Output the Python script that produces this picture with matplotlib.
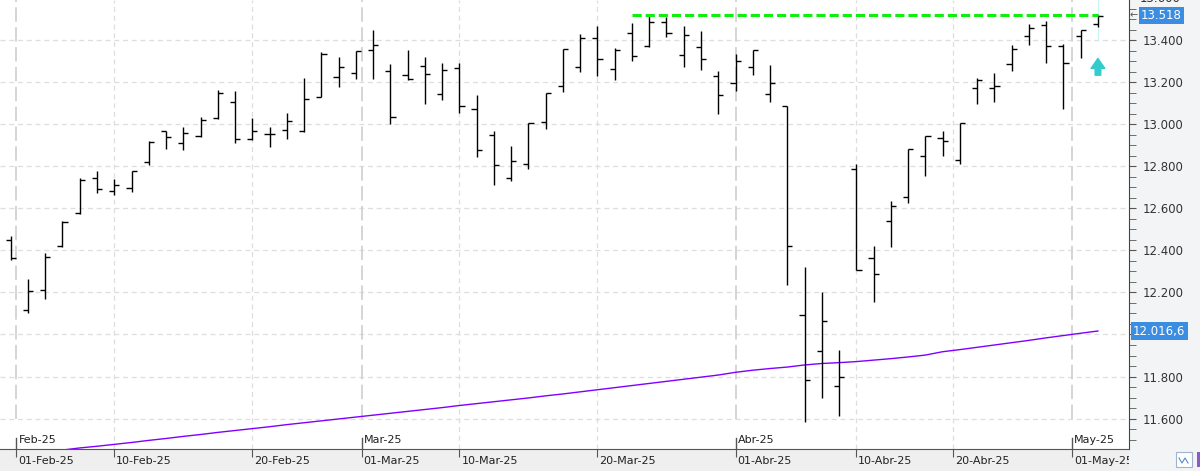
import numpy as np
import pandas as pd
import matplotlib
matplotlib.use("Agg")
import matplotlib.pyplot as plt
from matplotlib.patches import Rectangle
from matplotlib.ticker import MultipleLocator, FixedLocator, FuncFormatter
from matplotlib.transforms import (blended_transform_factory, ScaledTranslation,
                                   Bbox, TransformedBbox)

# sesiones 31-Ene-25 .. 05-May-25 (Viernes Santo, Lunes de Pascua y 1-May cerrados)
HOLIDAYS = ["2025-04-18", "2025-04-21", "2025-05-01"]
DAYS = pd.DatetimeIndex([d for d in pd.bdate_range("2025-01-31", "2025-05-05")
                         if d.strftime("%Y-%m-%d") not in HOLIDAYS])

OPEN = [12448, 12116, 12214, 12421, 12576, 12743, 12681, 12695, 12819, 12968,
        12910, 12943, 13029, 13105, 12929, 12953, 12971, 12967, 13130, 13224,
        13243, 13352, 13252, 13235, 13276, 13145, 13267, 13071, 12948, 12745,
        12810, 13011, 13181, 13271, 13410, 13262, 13433, 13371, 13486, 13329,
        13367, 13229, 13195, 13271, 13143, 13086, 12092, 11921, 11753, 12787,
        12362, 12538, 12653, 12848, 12935, 12829, 13171, 13171, 13287, 13421,
        13471, 13371, 13421, 13476]
HIGH = [12468, 12262, 12389, 12540, 12743, 12776, 12738, 12779, 12919, 12970,
        12986, 13033, 13163, 13157, 13029, 12989, 13052, 13219, 13343, 13321,
        13349, 13449, 13287, 13354, 13321, 13292, 13292, 13140, 12967, 12897,
        13008, 13149, 13357, 13430, 13468, 13362, 13483, 13516, 13510, 13468,
        13444, 13254, 13335, 13352, 13283, 13089, 12321, 12202, 11926, 12810,
        12421, 12635, 12881, 12943, 12967, 13008, 13219, 13244, 13378, 13478,
        13492, 13381, 13448, 13521]
LOW = [12353, 12103, 12170, 12418, 12574, 12675, 12665, 12679, 12808, 12884,
       12879, 12941, 13027, 12913, 12925, 12894, 12929, 12965, 13128, 13179,
       13217, 13217, 13000, 13211, 13098, 13118, 13052, 12843, 12710, 12729,
       12789, 12976, 13156, 13251, 13232, 13211, 13302, 13369, 13417, 13275,
       13260, 13051, 13157, 13237, 13108, 12237, 11584, 11696, 11613, 12305,
       12156, 12418, 12627, 12756, 12851, 12813, 13098, 13108, 13256, 13379,
       13294, 13075, 13317, 13465]
CLOSE = [12365, 12206, 12370, 12536, 12735, 12692, 12710, 12778, 12916, 12938,
         12959, 13019, 13148, 12929, 12967, 12953, 13014, 13119, 13333, 13271,
         13349, 13378, 13033, 13214, 13240, 13257, 13086, 12876, 12805, 12824,
         13005, 13149, 13357, 13410, 13310, 13352, 13324, 13486, 13433, 13424,
         13310, 13138, 13300, 13352, 13195, 12419, 11783, 12064, 11796, 12305,
         12286, 12610, 12881, 12943, 12919, 13008, 13210, 13181, 13357, 13457,
         13371, 13292, 13448, 13518]

# media movil (morada), desde la sesion 3
MA_START = 3
MA = [11450, 11460, 11468, 11477, 11486, 11496, 11505, 11515, 11524, 11534,
      11543, 11552, 11561, 11571, 11580, 11589, 11598, 11607, 11616, 11625,
      11634, 11643, 11652, 11662, 11671, 11680, 11689, 11698, 11708, 11717,
      11727, 11737, 11747, 11757, 11767, 11777, 11787, 11797, 11807, 11820,
      11830, 11838, 11845, 11855, 11862, 11866, 11871, 11878, 11885, 11893,
      11902, 11918, 11928, 11939, 11950, 11961, 11972, 11984, 11995, 12006,
      12016.6]

RESIST = 13522
RESIST_FROM = 36
LAST_LABEL = "13.518"
MA_LABEL = "12.016,6"

DATE_TICKS = ["2025-02-01", "2025-02-10", "2025-02-20", "2025-03-01", "2025-03-10",
              "2025-03-20", "2025-04-01", "2025-04-10", "2025-04-20", "2025-05-01"]
DATE_LABELS = ["01-Feb-25", "10-Feb-25", "20-Feb-25", "01-Mar-25", "10-Mar-25",
               "20-Mar-25", "01-Abr-25", "10-Abr-25", "20-Abr-25", "01-May-25"]
MONTHS = ["2025-02-01", "2025-03-01", "2025-04-01", "2025-05-01"]
MONTH_LABELS = ["Feb-25", "Mar-25", "Abr-25", "May-25"]

Y_TICKS = list(range(11600, 13601, 200))
HIDDEN_TICK = 12000   # tapado por la etiqueta de la media


def date_pos(s):
    # posicion en el eje de sesiones, interpolando por dias naturales
    d = pd.Timestamp(s)
    j = DAYS.searchsorted(d)
    if j < len(DAYS) and DAYS[j] == d:
        return float(j)
    a, b = DAYS[j - 1], DAYS[j]
    return j - 1 + (d - a).days / (b - a).days


def fmt(v, _=None):
    return f"{v:,.0f}".replace(",", ".")


def fmt_axis(v, _=None):
    return "" if round(v) == HIDDEN_TICK else fmt(v)


W, H = 1200, 471
AX_R, AX_B = 1129, 22

fig = plt.figure(figsize=(W / 100, H / 100), dpi=100, facecolor="#f3f4f6")
fig.patches.append(Rectangle((0, 0), AX_R / W, AX_B / H, transform=fig.transFigure,
                             facecolor="#efefef", edgecolor="none", zorder=-1))
# botones de la esquina inferior derecha
fig.patches.append(Rectangle((1176 / W, 4 / H), 16 / W, 15 / H, transform=fig.transFigure,
                             facecolor="white", edgecolor="#9fb4cc", lw=0.8))
fig.patches.append(Rectangle((1197 / W, 4 / H), 3 / W, 15 / H, transform=fig.transFigure,
                             facecolor="#8a5cc8", edgecolor="none"))
fig.lines.append(plt.Line2D(np.array([1179, 1182, 1185, 1188]) / W, np.array([13, 8, 13, 8]) / H,
                            transform=fig.transFigure, color="#5a8ac6", lw=0.8))

ax = fig.add_axes([0, AX_B / H, AX_R / W, 1 - AX_B / H])
ax.set_facecolor("white")

x = np.arange(len(DAYS))
ax.set_xlim(-0.62, 64.8)
ax.set_ylim(11455, 13592)

# rejilla
for v in Y_TICKS:
    ax.axhline(v, color="#dedede", lw=0.9, ls=(0, (4, 3)), zorder=0)
for s in DATE_TICKS:
    if s not in MONTHS:
        ax.axvline(date_pos(s), color="#dedede", lw=0.9, ls=(0, (4, 3)), zorder=0)
for s in MONTHS:
    ax.axvline(date_pos(s), ymin=30 / 449, color="#d2d2d2", lw=1.3,
               ls=(0, (8, 3)), zorder=0)

# barras OHLC
tick = 0.3
ax.vlines(x, LOW, HIGH, color="black", lw=1.0, zorder=3)
ax.hlines(OPEN, x - tick, x, color="black", lw=1.0, zorder=3)
ax.hlines(CLOSE, x, x + tick, color="black", lw=1.0, zorder=3)

# media movil
ax.plot(np.arange(MA_START, MA_START + len(MA)), MA, color="#8000ff", lw=1.0, zorder=2)

# resistencia
ax.plot([RESIST_FROM, x[-1]], [RESIST, RESIST], color="#10ee10", lw=2.2,
        ls=(0, (3, 1.3)), zorder=4)

# ultima sesion: linea y flecha cian
ax.plot([x[-1], x[-1]], [13400, 13600], color="#c8f6f6", lw=0.8, zorder=1)
ax.annotate("", xy=(x[-1], 13314), xytext=(x[-1], 13234),
            arrowprops=dict(arrowstyle="simple,head_length=0.8,head_width=1.1,tail_width=0.45",
                            mutation_scale=9, color="#33cccc", shrinkA=0, shrinkB=0),
            zorder=5)

# eje Y derecho
for side in ("top", "left"):
    ax.spines[side].set_visible(False)
ax.spines["right"].set_color("#444444")
ax.spines["bottom"].set_color("#555555")
ax.yaxis.tick_right()
ax.yaxis.set_major_locator(FixedLocator(Y_TICKS))
ax.yaxis.set_minor_locator(MultipleLocator(50))
ax.yaxis.set_major_formatter(FuncFormatter(fmt_axis))
ax.tick_params(axis="y", which="both", direction="out", length=5, color="#555555",
               labelsize=8.5, labelcolor="#333333", pad=5)
ax.text(1.0, 13600, fmt(13600), transform=blended_transform_factory(ax.transAxes, ax.transData)
        + ScaledTranslation(11 / 100, 0, fig.dpi_scale_trans),
        fontsize=8.5, color="#333333", va="center", ha="left", clip_on=False)

# etiquetas de precio
lbl_tr = blended_transform_factory(ax.transAxes, ax.transData)
ax.text(1.0, CLOSE[-1], LAST_LABEL, transform=lbl_tr + ScaledTranslation(12 / 100, 0, fig.dpi_scale_trans),
        fontsize=8.5, color="white", va="center", ha="left", clip_on=False, zorder=6,
        bbox=dict(boxstyle="square,pad=0.2", fc="#3b8de2", ec="none"))
ax.text(1.0, CLOSE[-1], "\u2190", transform=lbl_tr + ScaledTranslation(1 / 100, 0, fig.dpi_scale_trans),
        fontsize=7, color="#555555", va="center", ha="left", clip_on=False)
ax.text(1.0, MA[-1], MA_LABEL, transform=lbl_tr + ScaledTranslation(4 / 100, 0, fig.dpi_scale_trans),
        fontsize=8.5, color="white", va="center", ha="left", clip_on=False, zorder=6,
        bbox=dict(boxstyle="square,pad=0.2", fc="#3b8de2", ec="none"))

# eje X
ax.set_xticks([date_pos(s) for s in DATE_TICKS])
ax.set_xticklabels([])
ax.tick_params(axis="x", direction="out", length=6, color="#555555")
clip = TransformedBbox(Bbox([[0, 0], [AX_R / W, 1]]), fig.transFigure)
xt = blended_transform_factory(ax.transData, ax.transAxes)
off = ScaledTranslation(2 / 100, 0, fig.dpi_scale_trans)
for s, lab in zip(DATE_TICKS, DATE_LABELS):
    t = ax.text(date_pos(s), -12 / 449, lab, transform=xt + off, fontsize=8,
                color="#222222", ha="left", va="center")
    t.set_clip_box(clip)
    t.set_clip_on(True)
for s, lab in zip(MONTHS, MONTH_LABELS):
    p = date_pos(s)
    ax.axvline(p, 0, 11 / 449, color="#555555", lw=1.0)
    ax.text(p, 9 / 449, lab, transform=xt + off, fontsize=8, color="#222222",
            ha="left", va="center")

fig.savefig("out.png", dpi=100, facecolor=fig.get_facecolor())
